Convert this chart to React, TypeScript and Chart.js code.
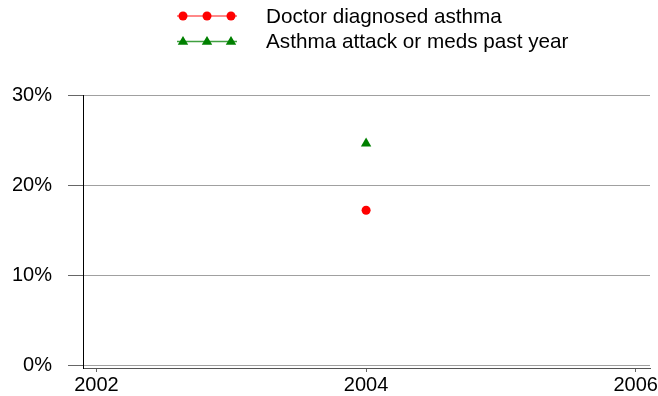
import React, { useEffect, useRef } from "react";
import { Chart, registerables } from "chart.js";

Chart.register(...registerables);

const years = [2004];
const doctorDiagnosed = [17.2];
const asthmaAttack = [24.6];
const xTickValues = [2002, 2004, 2006];
const yTickValues = [0, 10, 20, 30];
const seriesNames = ["Doctor diagnosed asthma", "Asthma attack or meds past year"];
const seriesColors = ["#ff0000", "#008000"];
const legendLineColors = ["#ff6060", "#40a040"];
const seriesShapes = ["circle", "triangle"];

const FONT = '"Liberation Sans", Arial, sans-serif';

const legendPlugin = {
  id: "customLegend",
  afterDraw(chart: any) {
    const ctx = chart.ctx;
    ctx.save();
    const rows = [16, 41.5];
    seriesNames.forEach((name, i) => {
      const y = rows[i];
      ctx.strokeStyle = legendLineColors[i];
      ctx.lineWidth = 1.5;
      ctx.beginPath();
      ctx.moveTo(177, y);
      ctx.lineTo(237, y);
      ctx.stroke();
      ctx.fillStyle = seriesColors[i];
      [183, 207, 231].forEach((mx) => {
        ctx.beginPath();
        if (seriesShapes[i] === "circle") {
          ctx.arc(mx, y, 4.5, 0, Math.PI * 2);
        } else {
          const r = 5.5;
          ctx.moveTo(mx, y - r);
          ctx.lineTo(mx + r * 0.95, y + r * 0.6);
          ctx.lineTo(mx - r * 0.95, y + r * 0.6);
          ctx.closePath();
        }
        ctx.fill();
      });
      ctx.fillStyle = "#000";
      ctx.font = "20.7px " + FONT;
      ctx.textBaseline = "middle";
      ctx.textAlign = "left";
      ctx.fillText(name, 266, y + 1);
    });
    ctx.restore();
  },
};

export default function App() {
  const ref = useRef<HTMLCanvasElement>(null);

  useEffect(() => {
    document.body.style.margin = "0";
    const canvas = ref.current!;
    const chart = new Chart(canvas, {
      type: "scatter",
      data: {
        datasets: [
          {
            label: seriesNames[0],
            data: years.map((x, i) => ({ x, y: doctorDiagnosed[i] })),
            backgroundColor: seriesColors[0],
            borderColor: seriesColors[0],
            pointStyle: "circle",
            pointRadius: 4.5,
            borderWidth: 0,
            showLine: false,
          },
          {
            label: seriesNames[1],
            data: years.map((x, i) => ({ x, y: asthmaAttack[i] })),
            backgroundColor: seriesColors[1],
            borderColor: seriesColors[1],
            pointStyle: "triangle",
            pointRadius: 6,
            borderWidth: 0,
            showLine: false,
          },
        ],
      },
      options: {
        responsive: false,
        animation: false,
        events: [],
        layout: { padding: { top: 95, left: 12, right: 8, bottom: 0 } },
        plugins: {
          legend: { display: false },
          tooltip: { enabled: false },
        },
        scales: {
          x: {
            type: "linear",
            min: 2001.9,
            max: 2006.106,
            afterBuildTicks: (scale: any) => {
              scale.ticks = xTickValues.map((v) => ({ value: v }));
            },
            afterFit: (scale: any) => {
              scale.height = 27;
              scale.paddingLeft = 0;
              scale.paddingRight = 0;
            },
            ticks: {
              callback: (v: any) => String(v),
              color: "#000",
              font: { family: FONT, size: 20, lineHeight: 1 },
              padding: 3,
              maxRotation: 0,
              autoSkip: false,
            },
            grid: {
              drawOnChartArea: false,
              drawTicks: true,
              tickLength: 4,
              tickColor: "#666",
            },
            border: { display: true, color: "#555", width: 1 },
          },
          y: {
            type: "linear",
            min: -0.33,
            max: 30,
            afterBuildTicks: (scale: any) => {
              scale.ticks = yTickValues.map((v) => ({ value: v }));
            },
            afterFit: (scale: any) => {
              scale.width = 71;
            },
            ticks: {
              callback: (v: any) => v + "%",
              color: "#000",
              font: { family: FONT, size: 20 },
              padding: 16,
            },
            grid: {
              color: "#a0a0a0",
              tickColor: "#666",
              tickLength: 15,
              lineWidth: 1,
            },
            border: { display: true, color: "#000", width: 1 },
          },
        },
      },
      plugins: [legendPlugin],
    } as any);
    return () => chart.destroy();
  }, []);

  return <canvas ref={ref} width={658} height={396} style={{ display: "block" }} />;
}
